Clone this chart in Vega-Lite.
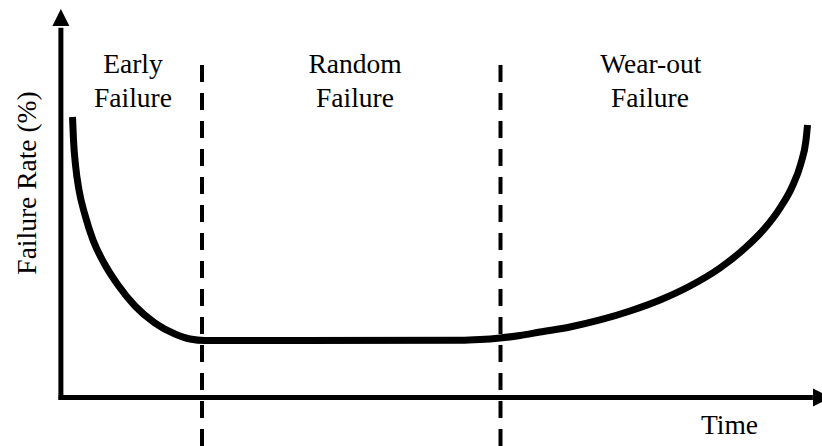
{
  "$schema": "https://vega.github.io/schema/vega-lite/v6.json",
  "width": 822,
  "height": 446,
  "autosize": "none",
  "padding": 0,
  "background": "white",
  "config": {"view": {"stroke": null}},
  "datasets": {
    "curve": [
      {"t": 1.526, "r": 70.57},
      {"t": 1.657, "r": 64.78},
      {"t": 1.92, "r": 58.49},
      {"t": 2.38, "r": 52.2},
      {"t": 3.168, "r": 45.91},
      {"t": 4.219, "r": 39.62},
      {"t": 5.664, "r": 33.84},
      {"t": 7.504, "r": 28.3},
      {"t": 9.737, "r": 23.02},
      {"t": 12.365, "r": 18.74},
      {"t": 14.993, "r": 15.98},
      {"t": 16.964, "r": 14.72},
      {"t": 18.935, "r": 14.34},
      {"t": 31.417, "r": 14.34},
      {"t": 52.44, "r": 14.39},
      {"t": 55.066, "r": 14.57},
      {"t": 57.694, "r": 14.97},
      {"t": 60.32, "r": 15.6},
      {"t": 62.95, "r": 16.48},
      {"t": 66.89, "r": 17.74},
      {"t": 70.83, "r": 19.5},
      {"t": 74.77, "r": 21.76},
      {"t": 78.72, "r": 24.53},
      {"t": 82.66, "r": 28.05},
      {"t": 86.6, "r": 32.58},
      {"t": 89.89, "r": 37.61},
      {"t": 92.51, "r": 42.64},
      {"t": 94.48, "r": 47.67},
      {"t": 96.06, "r": 52.96},
      {"t": 97.24, "r": 58.99},
      {"t": 97.9, "r": 64.78},
      {"t": 98.1, "r": 68.55}
    ],
    "axes": [
      {"t": 0, "r": -0.6, "t2": 0, "r2": 93},
      {"t": -0.3, "r": 0, "t2": 98.8, "r2": 0}
    ],
    "phases": [
      {"t": 18.54, "r": 83.65, "r2": -12.2},
      {"t": 57.76, "r": 83.65, "r2": -12.2}
    ],
    "labels": [
      {"label": "Early", "t": 9.47, "r": 81.6},
      {"label": "Failure", "t": 9.47, "r": 73.1},
      {"label": "Random", "t": 38.64, "r": 81.6},
      {"label": "Failure", "t": 38.64, "r": 73.1},
      {"label": "Wear-out", "t": 77.5, "r": 81.6},
      {"label": "Failure", "t": 77.4, "r": 73.1},
      {"label": "Time", "t": 87.85, "r": -9.2}
    ]
  },
  "encoding": {
    "x": {"field": "t", "type": "quantitative", "scale": {"domain": [-8, 100], "nice": false, "zero": false}, "axis": null},
    "y": {"field": "r", "type": "quantitative", "scale": {"domain": [-12.2, 100], "nice": false, "zero": false}, "axis": null}
  },
  "layer": [
    {
      "data": {"name": "axes"},
      "mark": {"type": "rule", "color": "black", "strokeWidth": 5, "strokeCap": "butt"},
      "encoding": {
        "x2": {"field": "t2"},
        "y2": {"field": "r2"}
      }
    },
    {
      "data": {"values": [{"t": 0, "r": 95.6}]},
      "mark": {"type": "point", "shape": "M0,-1L1,1L-1,1Z", "size": 289, "filled": true, "color": "black", "opacity": 1, "strokeWidth": 0}
    },
    {
      "data": {"values": [{"t": 100, "r": 0}]},
      "mark": {"type": "point", "shape": "M1,0L-1,-1L-1,1Z", "size": 324, "filled": true, "color": "black", "opacity": 1, "strokeWidth": 0}
    },
    {
      "data": {"name": "phases"},
      "mark": {"type": "rule", "color": "black", "strokeWidth": 4, "strokeDash": [17, 11], "strokeCap": "butt"},
      "encoding": {
        "y2": {"field": "r2"}
      }
    },
    {
      "data": {"name": "curve"},
      "mark": {"type": "line", "color": "black", "strokeWidth": 7, "interpolate": "monotone", "strokeCap": "butt"},
      "encoding": {}
    },
    {
      "data": {"name": "labels"},
      "mark": {"type": "text", "font": "Liberation Serif", "fontSize": 27.5, "align": "center", "baseline": "alphabetic", "color": "black"},
      "encoding": {
        "text": {"field": "label"}
      }
    },
    {
      "data": {"values": [{"label": "Failure Rate (%)", "t": -3.27, "r": 53.96}]},
      "mark": {"type": "text", "font": "Liberation Serif", "fontSize": 27.5, "align": "center", "baseline": "alphabetic", "angle": 270, "color": "black"},
      "encoding": {
        "text": {"field": "label"}
      }
    }
  ]
}
